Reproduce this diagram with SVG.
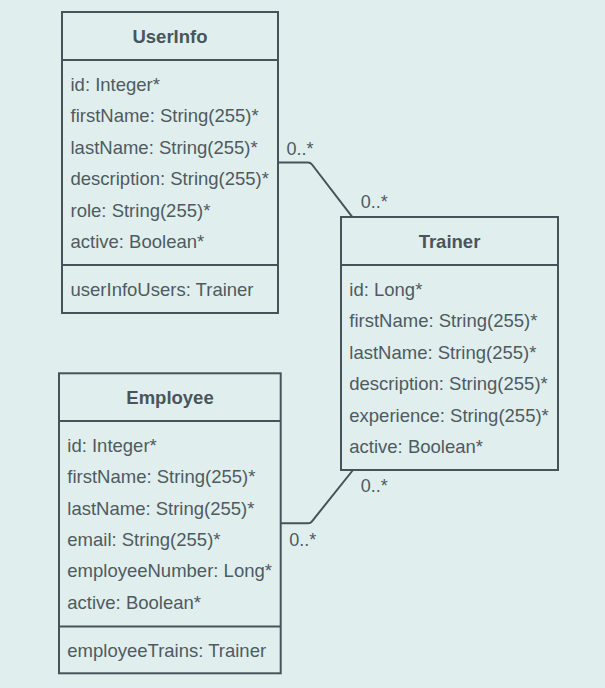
<svg xmlns="http://www.w3.org/2000/svg" width="605" height="688" viewBox="0 0 605 688">
<style>
.box{fill:#e0efee;stroke:#47535a;stroke-width:2}
.sep{stroke:#47535a;stroke-width:2}
.title{font-family:"Liberation Sans",Arial,sans-serif;font-size:18.5px;font-weight:bold;fill:#4a555b;text-anchor:middle}
.attr{font-family:"Liberation Sans",Arial,sans-serif;font-size:18.5px;fill:#4f5a60}
.lbl{font-family:"Liberation Sans",Arial,sans-serif;font-size:18px;fill:#4f5a60}
.conn{fill:none;stroke:#47535a;stroke-width:2;stroke-linejoin:round}
</style>
<rect x="0" y="0" width="605" height="688" fill="#e0efee"/>
<g id="connectors">
<path class="conn" d="M278,162.5 H308 Q310.5,162.5 312,164.5 L352,216.7"/>
<path class="conn" d="M280.7,523.3 H308 Q310.5,523.3 312,521.3 L353,470"/>
<text class="lbl" x="286.5" y="155">0..*</text>
<text class="lbl" x="360.7" y="208.3">0..*</text>
<text class="lbl" x="360.7" y="491.7">0..*</text>
<text class="lbl" x="289.3" y="546">0..*</text>
</g>
<g id="UserInfo">
<rect class="box" x="62" y="12" width="216" height="301"/>
<line class="sep" x1="62" y1="60" x2="278" y2="60"/>
<line class="sep" x1="62" y1="265" x2="278" y2="265"/>
<text class="title" x="170" y="43">UserInfo</text>
<text class="attr" x="70.5" y="91">id: Integer*</text>
<text class="attr" x="70.5" y="122.4">firstName: String(255)*</text>
<text class="attr" x="70.5" y="153.8">lastName: String(255)*</text>
<text class="attr" x="70.5" y="185.2">description: String(255)*</text>
<text class="attr" x="70.5" y="216.6">role: String(255)*</text>
<text class="attr" x="70.5" y="248">active: Boolean*</text>
<text class="attr" x="70.5" y="296">userInfoUsers: Trainer</text>
</g>
<g id="Trainer">
<rect class="box" x="341" y="217" width="217" height="253"/>
<line class="sep" x1="341" y1="265" x2="558" y2="265"/>
<text class="title" x="449.5" y="248">Trainer</text>
<text class="attr" x="349.3" y="296">id: Long*</text>
<text class="attr" x="349.3" y="327.4">firstName: String(255)*</text>
<text class="attr" x="349.3" y="358.8">lastName: String(255)*</text>
<text class="attr" x="349.3" y="390.2">description: String(255)*</text>
<text class="attr" x="349.3" y="421.6">experience: String(255)*</text>
<text class="attr" x="349.3" y="453">active: Boolean*</text>
</g>
<g id="Employee">
<rect class="box" x="59" y="373.3" width="221.7" height="300"/>
<line class="sep" x1="59" y1="421" x2="280.7" y2="421"/>
<line class="sep" x1="59" y1="626.5" x2="280.7" y2="626.5"/>
<text class="title" x="170" y="403.5">Employee</text>
<text class="attr" x="67.3" y="451.7">id: Integer*</text>
<text class="attr" x="67.3" y="483.1">firstName: String(255)*</text>
<text class="attr" x="67.3" y="514.5">lastName: String(255)*</text>
<text class="attr" x="67.3" y="545.9">email: String(255)*</text>
<text class="attr" x="67.3" y="577.3">employeeNumber: Long*</text>
<text class="attr" x="67.3" y="608.7">active: Boolean*</text>
<text class="attr" x="67.3" y="656.7">employeeTrains: Trainer</text>
</g>
</svg>
